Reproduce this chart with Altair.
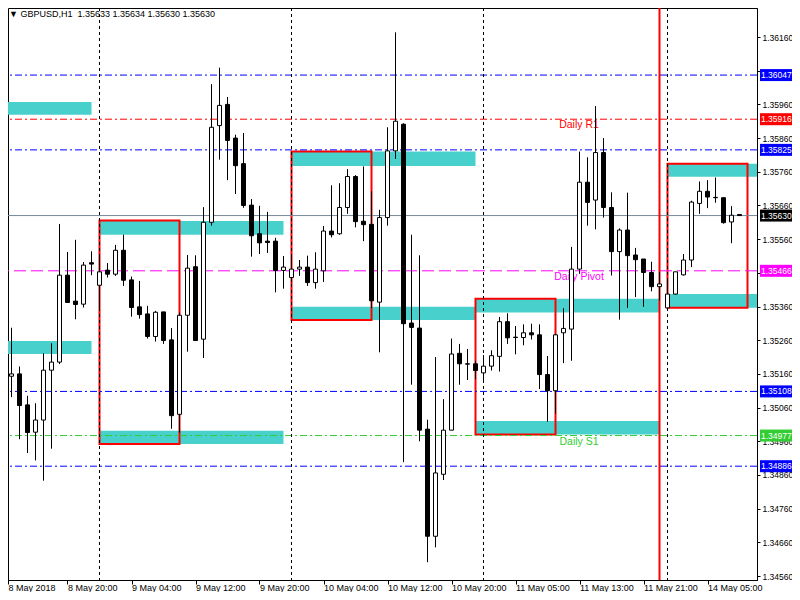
import altair as alt
import pandas as pd

# ---------------- data ----------------
title_text = "\u25bc GBPUSD,H1 \u00a01.35633 1.35634 1.35630 1.35630"

opens = [1.35090, 1.35153, 1.35160, 1.35068, 1.34987, 1.35023, 1.35171, 1.35195, 1.35453, 1.35376,
         1.35367, 1.35490, 1.35423, 1.35468, 1.35456, 1.35527, 1.35439, 1.35359, 1.35338, 1.35271,
         1.35344, 1.35261, 1.35040, 1.35334, 1.35478, 1.35263, 1.35610, 1.35897, 1.35960, 1.35860,
         1.35784, 1.35661, 1.35576, 1.35554, 1.35554, 1.35467, 1.35446, 1.35471, 1.35477, 1.35431,
         1.35466, 1.35584, 1.35576, 1.35654, 1.35746, 1.35613, 1.35604, 1.35373, 1.35624, 1.35822,
         1.35901, 1.35311, 1.35296, 1.34996, 1.34678, 1.34862, 1.34993, 1.35221, 1.35190, 1.35190,
         1.35163, 1.35183, 1.35212, 1.35315, 1.35269, 1.35268, 1.35282, 1.35276, 1.35158, 1.35110,
         1.35282, 1.35293, 1.35471, 1.35729, 1.35676, 1.35817, 1.35654, 1.35523, 1.35587, 1.35513,
         1.35501, 1.35461, 1.35419, 1.35356, 1.35397, 1.35454, 1.35498, 1.35666, 1.35702, 1.35684,
         1.35683, 1.35611, 1.35633]
highs = [1.35178, 1.35297, 1.35182, 1.35095, 1.35073, 1.35221, 1.35251, 1.35605, 1.35522, 1.35558,
         1.35492, 1.35524, 1.35513, 1.35489, 1.35543, 1.35573, 1.35449, 1.35436, 1.35362, 1.35347,
         1.35344, 1.35296, 1.35342, 1.35513, 1.35512, 1.35655, 1.36020, 1.36069, 1.35982, 1.35870,
         1.35875, 1.35679, 1.35659, 1.35641, 1.35564, 1.35510, 1.35515, 1.35498, 1.35511, 1.35521,
         1.35599, 1.35720, 1.35726, 1.35768, 1.35750, 1.35776, 1.35702, 1.35647, 1.35892, 1.36174,
         1.35904, 1.35573, 1.35512, 1.35024, 1.35210, 1.35085, 1.35265, 1.35249, 1.35234, 1.35199,
         1.35216, 1.35230, 1.35329, 1.35340, 1.35302, 1.35307, 1.35309, 1.35307, 1.35213, 1.35279,
         1.35355, 1.35537, 1.35820, 1.35803, 1.35955, 1.35860, 1.35699, 1.35592, 1.35698, 1.35534,
         1.35501, 1.35493, 1.35463, 1.35441, 1.35463, 1.35516, 1.35674, 1.35731, 1.35735, 1.35743,
         1.35684, 1.35658, 1.35634]
lows = [1.34994, 1.35091, 1.34966, 1.34925, 1.34903, 1.34843, 1.34938, 1.35189, 1.35372, 1.35322,
        1.35357, 1.35453, 1.35352, 1.35446, 1.35451, 1.35421, 1.35330, 1.35324, 1.35265, 1.35256,
        1.35249, 1.34997, 1.34986, 1.35226, 1.35259, 1.35207, 1.35600, 1.35796, 1.35735, 1.35694,
        1.35653, 1.35508, 1.35516, 1.35519, 1.35402, 1.35413, 1.35432, 1.35451, 1.35421, 1.35413,
        1.35433, 1.35565, 1.35573, 1.35635, 1.35595, 1.35554, 1.35356, 1.35224, 1.35600, 1.35798,
        1.34898, 1.35128, 1.34960, 1.34601, 1.34645, 1.34845, 1.34993, 1.35128, 1.35142, 1.35144,
        1.35136, 1.35170, 1.35167, 1.35249, 1.35218, 1.35245, 1.35262, 1.35115, 1.35018, 1.35042,
        1.35192, 1.35199, 1.35457, 1.35600, 1.35589, 1.35624, 1.35452, 1.35321, 1.35356, 1.35388,
        1.35359, 1.35405, 1.35378, 1.35356, 1.35395, 1.35452, 1.35477, 1.35635, 1.35652, 1.35668,
        1.35606, 1.35548, 1.35630]
closes = [1.35155, 1.35160, 1.35066, 1.34986, 1.35023, 1.35171, 1.35195, 1.35453, 1.35372, 1.35366,
          1.35483, 1.35486, 1.35463, 1.35456, 1.35527, 1.35438, 1.35357, 1.35336, 1.35271, 1.35343,
          1.35259, 1.35036, 1.35334, 1.35474, 1.35259, 1.35610, 1.35892, 1.35957, 1.35853, 1.35778,
          1.35660, 1.35570, 1.35549, 1.35550, 1.35467, 1.35477, 1.35471, 1.35477, 1.35431, 1.35471,
          1.35584, 1.35573, 1.35654, 1.35746, 1.35612, 1.35603, 1.35377, 1.35624, 1.35822, 1.35910,
          1.35309, 1.35298, 1.34993, 1.34678, 1.34866, 1.34993, 1.35219, 1.35190, 1.35189, 1.35170,
          1.35183, 1.35214, 1.35315, 1.35267, 1.35268, 1.35282, 1.35276, 1.35158, 1.35110, 1.35276,
          1.35295, 1.35471, 1.35729, 1.35669, 1.35817, 1.35654, 1.35523, 1.35587, 1.35511, 1.35499,
          1.35461, 1.35419, 1.35427, 1.35397, 1.35463, 1.35498, 1.35670, 1.35702, 1.35685, 1.35683,
          1.35609, 1.35631, 1.35630]

time_tick_index = [8, 16, 24, 32, 40, 48, 56, 64, 72, 80, 88]
time_tick_labels = ["8 May 20:00", "9 May 04:00", "9 May 12:00", "9 May 20:00", "10 May 04:00",
                    "10 May 12:00", "10 May 20:00", "11 May 05:00", "11 May 13:00", "11 May 21:00",
                    "14 May 05:00"]
first_time_label = "8 May 2018"

price_ticks = [1.34560, 1.34660, 1.34760, 1.34860, 1.34960, 1.35060, 1.35160, 1.35260, 1.35360,
               1.35460, 1.35560, 1.35660, 1.35760, 1.35860, 1.35960, 1.36060, 1.36160]
# tick labels that sit completely under a price tag in the reference
covered_tick_labels = [1.36060, 1.35460]

level_prices = [1.36047, 1.35916, 1.35825, 1.35630, 1.35466, 1.35108, 1.34977, 1.34886]
level_kinds = ["blue", "R1", "blue", "bid", "pivot", "blue", "S1", "blue"]

pivot_label_text = ["Daily R1", "Daily Pivot", "Daily S1"]
pivot_label_price = [1.35916, 1.35466, 1.34977]
pivot_label_kind = ["R1", "pivot", "S1"]

zone_start = [-0.1, -0.1, 12, 12, 36, 36, 59, 59, 83, 83]
zone_end = [11, 11, 35, 35, 59, 59, 82, 82, 95, 95]
zone_top = [1.35967, 1.35258, 1.35614, 1.34991, 1.35820, 1.35359, 1.35383, 1.35020, 1.35784, 1.35397]
zone_bottom = [1.35929, 1.35219, 1.35573, 1.34952, 1.35777, 1.35320, 1.35342, 1.34980, 1.35745, 1.35356]

box_start = [12, 36, 59, 83]
box_end = [22, 46, 69, 93]
box_top = [1.35615, 1.35820, 1.35383, 1.35784]
box_bottom = [1.34952, 1.35320, 1.34980, 1.35356]

day_separator_index = [12, 36, 60, 83]
marker_index = [82]

# ---------------- tables ----------------
candles = pd.DataFrame({"idx": list(range(len(opens))), "open": opens, "high": highs,
                        "low": lows, "close": closes})
levels = pd.DataFrame({"price": level_prices, "kind": level_kinds})
pivot_labels = pd.DataFrame({"text": pivot_label_text, "price": pivot_label_price,
                             "kind": pivot_label_kind})
zones = pd.DataFrame({"x0": zone_start, "x1": zone_end, "top": zone_top, "bottom": zone_bottom})
boxes = pd.DataFrame({"x0": box_start, "x1": box_end, "top": box_top, "bottom": box_bottom})
seps = pd.DataFrame({"idx": day_separator_index})
marker = pd.DataFrame({"idx": marker_index})
title_df = pd.DataFrame({"t": [title_text]})

# ---------------- scales & axes ----------------
X_DOMAIN = [0.5625, 94.1875]
Y_DOMAIN = [1.345482, 1.362461]
xs = alt.Scale(domain=X_DOMAIN, nice=False, zero=False, padding=0)
ys = alt.Scale(domain=Y_DOMAIN, nice=False, zero=False, padding=0)

kind_domain = ["blue", "R1", "bid", "pivot", "S1"]
line_colors = alt.Scale(domain=kind_domain,
                        range=["#0000FF", "#FF0000", "#778899", "#FF00FF", "#32CD32"])
tag_colors = alt.Scale(domain=kind_domain,
                       range=["#0000FF", "#FF0000", "#000000", "#FF00FF", "#32CD32"])
dash_scale = alt.Scale(domain=kind_domain,
                       range=[[7, 3, 2, 3], [7, 3, 2, 3], [1, 0], [12, 5], [7, 3, 2, 3]])

FONT = "Liberation Sans"

label_array = "[" + ",".join("'" + s + "'" for s in time_tick_labels) + "]"
x_axis = alt.Axis(values=[X_DOMAIN[0]] + time_tick_index,
                  labelExpr=f"datum.value < 1 ? '{first_time_label}' : {label_array}[round(datum.value/8) - 1]",
                  orient="bottom", title=None, tickSize=4, labelPadding=6,
                  labelAlign="left", labelBaseline="alphabetic", labelFlush=False,
                  labelOverlap=False, labelFontSize=9, labelFont=FONT, labelColor="black",
                  tickColor="black", domainColor="black", grid=False)
covered_test = " || ".join(f"abs(datum.value - {v}) < 1e-7" for v in covered_tick_labels)
y_axis = alt.Axis(values=price_ticks, labelExpr=f"({covered_test}) ? '' : format(datum.value, '.5f')",
                  orient="right", title=None, tickSize=3,
                  labelPadding=2, labelOverlap=False, labelFontSize=8.5, labelFont=FONT,
                  labelColor="black", tickColor="black", domainColor="black", grid=False)


def qx(field):
    return alt.X(field, type="quantitative", scale=xs, axis=x_axis)


def qy(field):
    return alt.Y(field, type="quantitative", scale=ys, axis=y_axis)


# ---------------- layers ----------------
zone_layer = alt.Chart(zones).mark_rect(color="#48D1CC", clip=True).encode(
    x=qx("x0"), x2="x1", y=qy("top"), y2="bottom")

box_layer = alt.Chart(boxes).mark_rect(fillOpacity=0, stroke="#FF0000", strokeWidth=2,
                                       clip=True).encode(
    x=qx("x0"), x2="x1", y=qy("top"), y2="bottom")

level_layer = alt.Chart(levels).mark_rule(strokeWidth=1).encode(
    y=qy("price"),
    color=alt.Color("kind:N", scale=line_colors, legend=None),
    strokeDash=alt.StrokeDash("kind:N", scale=dash_scale, legend=None))

sep_layer = alt.Chart(seps).mark_rule(color="black", strokeDash=[3, 3], strokeWidth=1).encode(
    x=qx("idx"))

marker_layer = alt.Chart(marker).mark_rule(color="#FF0000", strokeWidth=2).encode(x=qx("idx"))

pivot_text_layer = alt.Chart(pivot_labels).mark_text(
    align="center", baseline="top", dy=1, fontSize=10.5, font=FONT).encode(
    x=alt.value(571), y=qy("price"), text="text:N",
    color=alt.Color("kind:N", scale=line_colors, legend=None))

wick_layer = alt.Chart(candles).mark_rule(color="black", strokeWidth=1).encode(
    x=qx("idx"), y=qy("low"), y2="high")

body_layer = alt.Chart(candles).mark_bar(size=4, stroke="black", strokeWidth=1).encode(
    x=qx("idx"), y=qy("open"), y2="close",
    fill=alt.when(alt.datum.close >= alt.datum.open).then(alt.value("white")).otherwise(
        alt.value("black")))

tag_rect_layer = alt.Chart(levels).mark_rect(yOffset=-6, y2Offset=6).encode(
    x=alt.value(752), x2=alt.value(784), y=qy("price"), y2="price",
    fill=alt.Fill("kind:N", scale=tag_colors, legend=None))

tag_text_layer = alt.Chart(levels).mark_text(
    align="left", baseline="middle", color="white", fontSize=8.5, font=FONT).encode(
    x=alt.value(753), y=qy("price"), text=alt.Text("price:Q", format=".5f"))

title_layer = alt.Chart(title_df).mark_text(
    align="left", baseline="alphabetic", fontSize=9, font=FONT, color="black").encode(
    x=alt.value(1), y=alt.value(8.7), text="t:N")

chart = alt.layer(
    zone_layer, box_layer, level_layer, sep_layer, marker_layer, pivot_text_layer,
    wick_layer, body_layer, tag_rect_layer, tag_text_layer, title_layer
).resolve_scale(color="independent").properties(
    width=749, height=572,
    autosize=alt.AutoSizeParams(type="none"),
    padding={"left": 0, "top": 0, "right": 35, "bottom": 12},
    background="white",
).configure_view(stroke="black", strokeWidth=1)

chart.save("out.html", embed_options={"renderer": "svg", "actions": False})
